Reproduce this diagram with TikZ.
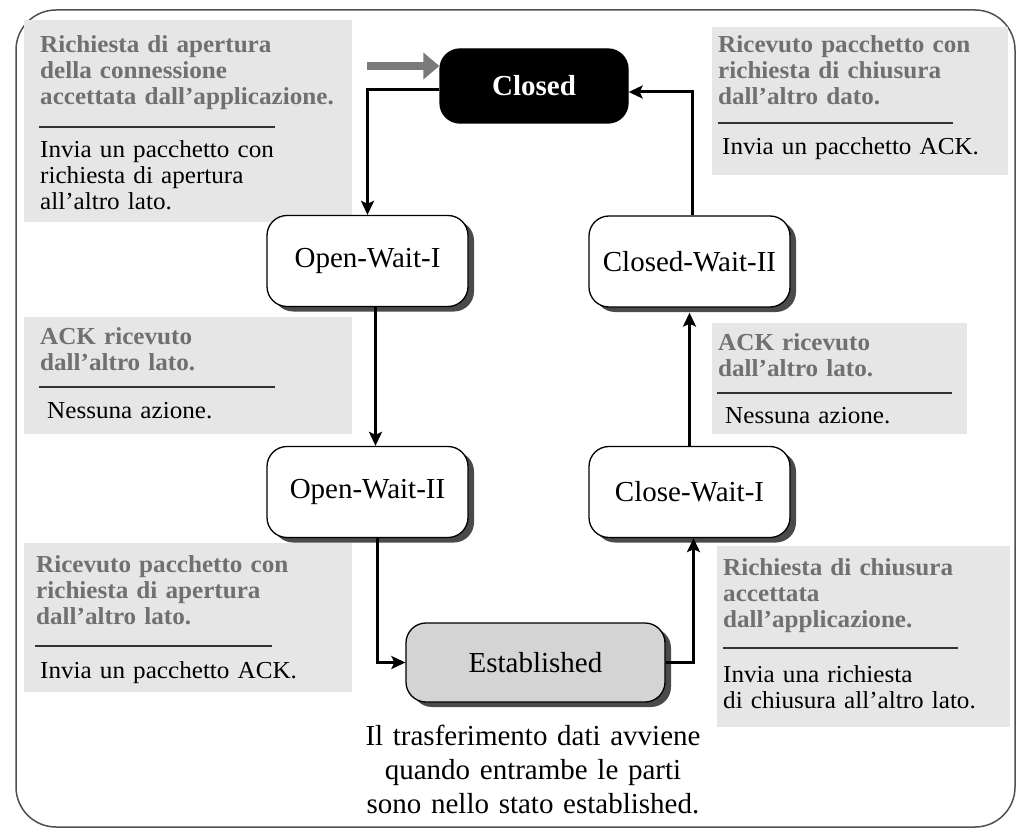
\documentclass[tikz,border=0pt]{standalone}
\usepackage{fontspec}
\setmainfont{Liberation Serif}
\newfontfamily\labfont{Liberation Serif}[FakeStretch=1.03]
\usetikzlibrary{arrows.meta,shadows}
\definecolor{boxgray}{HTML}{E6E6E6}
\definecolor{headgray}{HTML}{707070}
\definecolor{shadowgray}{HTML}{4A4A4A}
\definecolor{estgray}{HTML}{D4D4D4}
\definecolor{framegray}{HTML}{505050}
\definecolor{initgray}{HTML}{7A7A7A}
\begin{document}
\begin{tikzpicture}[x=1pt,y=-1pt,
  state/.style={draw=black, line width=1.3pt, rounded corners=20pt, fill=white,
    minimum width=201pt, minimum height=91pt, inner sep=0pt,
    font=\fontsize{29}{34}\selectfont,
    drop shadow={shadow xshift=6pt, shadow yshift=-5pt, fill=shadowgray, opacity=1}},
  closedstate/.style={draw=black, line width=1.3pt, rounded corners=20pt, fill=black,
    text=white, minimum width=188pt, minimum height=74pt, inner sep=0pt,
    font=\fontsize{29}{34}\selectfont\bfseries},
  labbox/.style={fill=boxgray, inner sep=0pt, anchor=north west},
  head/.style={text=headgray, text width=330pt, align=left, anchor=base west, inner sep=0pt,
    font=\labfont\bfseries\fontsize{24.4}{26}\selectfont},
  act/.style={text=black, text width=330pt, align=left, anchor=base west, inner sep=0pt,
    font=\labfont\fontsize{24.4}{26}\selectfont},
  labrule/.style={draw=black!80, line width=1.3pt},
  arr/.style={draw=black, line width=3pt, -{Stealth[length=14pt,width=13pt,inset=3pt]}},
  initarrow/.style={draw=initgray, line width=8pt, -{Triangle[length=16pt,width=26pt]}},
  note/.style={text width=420pt, align=center, anchor=base, inner sep=0pt,
    font=\fontsize{29}{34}\selectfont}
]
\useasboundingbox (0,0) rectangle (1017,829);
\draw[framegray, line width=1.5pt, rounded corners=40pt] (16,10) rectangle (1015,827);

% label boxes
\node[labbox, minimum width=328pt, minimum height=202pt] (b1) at (24,20) {};
\node[labbox, minimum width=296pt, minimum height=148pt] (b2) at (712,27) {};
\node[labbox, minimum width=328pt, minimum height=117pt] (b3) at (24,317) {};
\node[labbox, minimum width=255pt, minimum height=111pt] (b4) at (712,323) {};
\node[labbox, minimum width=328pt, minimum height=149pt] (b5) at (24,543) {};
\node[labbox, minimum width=293pt, minimum height=181pt] (b6) at (717,546) {};

% label 1
\node[head] (h1) at (40,53) {Richiesta di apertura\\della connessione\\accettata dall’applicazione.};
\draw[labrule] (39,127) -- (275,127);
\node[act] (a1) at (40,158) {Invia un pacchetto con\\richiesta di apertura\\all’altro lato.};
% label 2
\node[head] (h2) at (718,53) {Ricevuto pacchetto con\\richiesta di chiusura\\dall’altro dato.};
\draw[labrule] (718,123) -- (953,123);
\node[act] (a2) at (722,155) {Invia un pacchetto ACK.};
% label 3
\node[head] (h3) at (40,344) {ACK ricevuto\\dall’altro lato.};
\draw[labrule] (39,387) -- (275,387);
\node[act] (a3) at (47,418) {Nessuna azione.};
% label 4
\node[head] (h4) at (718,350) {ACK ricevuto\\dall’altro lato.};
\draw[labrule] (717,393) -- (952,393);
\node[act] (a4) at (725,423) {Nessuna azione.};
% label 5
\node[head] (h5) at (36,572) {Ricevuto pacchetto con\\richiesta di apertura\\dall’altro lato.};
\draw[labrule] (35,646) -- (272,646);
\node[act] (a5) at (40,678) {Invia un pacchetto ACK.};
% label 6
\node[head] (h6) at (723,575) {Richiesta di chiusura\\accettata\\dall’applicazione.};
\draw[labrule] (723,648) -- (958,648);
\node[act] (a6) at (723,682) {Invia una richiesta\\di chiusura all’altro lato.};

% states
\node[closedstate] (closed) at (534,86) {Closed};
\node[state] (ow1) at (367.5,261) {Open-Wait-I};
\node[state] (ow2) at (367.5,492) {Open-Wait-II};
\node[state] (cw2) at (689.5,261.5) {Closed-Wait-II};
\node[state] (cw1) at (689.5,492) {Close-Wait-I};
\node[state, fill=estgray, minimum width=259pt, minimum height=79pt] (est) at (535.5,662.5) {Established};

% connectors
\coordinate (entry) at (367,66);
\draw[initarrow] (entry) -- (entry -| closed.west);
\draw[arr] ([yshift=-4pt]closed.west) -| (ow1.north);
\draw[arr] ([xshift=8pt]ow1.south) -- ([xshift=8pt]ow2.north);
\draw[arr] ([xshift=10pt]ow2.south) |- (est.west);
\draw[arr] (est.east) -| ([xshift=4pt]cw1.south);
\draw[arr] (cw1.north) -- ([yshift=-5pt]cw2.south);
\draw[arr] ([xshift=3pt]cw2.north) |- ([yshift=-6pt]closed.east);

\node[note] (txt) at (533,745) {Il trasferimento dati avviene\\quando entrambe le parti\\sono nello stato established.};
\end{tikzpicture}
\end{document}
